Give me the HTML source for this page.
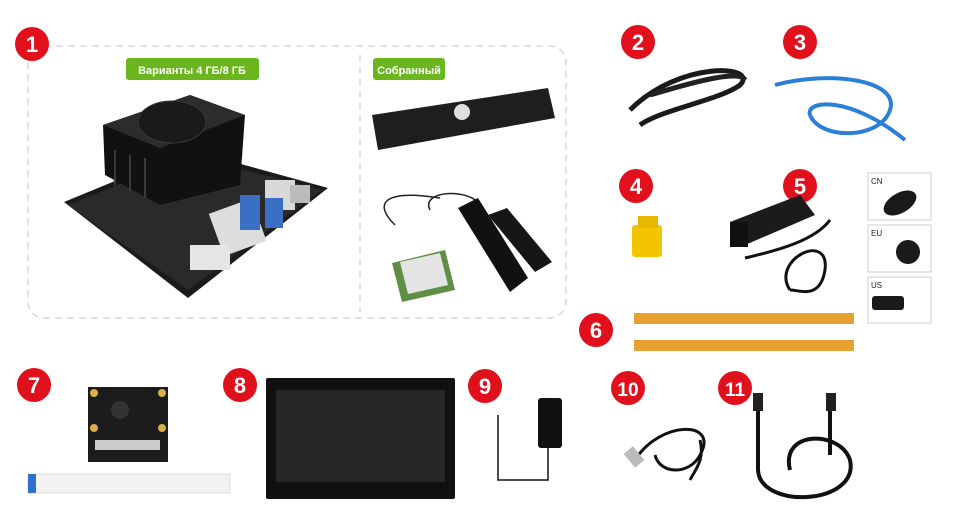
<!DOCTYPE html>
<html><head><meta charset="utf-8"><style>
html,body{margin:0;padding:0;background:#fff;width:960px;height:525px;overflow:hidden}
svg{display:block}
text{font-family:"Liberation Sans",sans-serif}
</style></head><body>
<svg width="960" height="525" viewBox="0 0 960 525" xmlns="http://www.w3.org/2000/svg">
<rect x="28" y="46" width="538" height="272" rx="16" fill="none" stroke="#d8d8d8" stroke-width="1.5" stroke-dasharray="7,5"/>
<line x1="360" y1="55" x2="360" y2="312" stroke="#d8d8d8" stroke-width="1.5" stroke-dasharray="7,5"/>
<rect x="126" y="58" width="133" height="22" rx="3" fill="#6bb51f"/>
<text x="192" y="74" font-size="11" font-weight="bold" fill="#fff" text-anchor="middle">Варианты 4 ГБ/8 ГБ</text>
<rect x="373" y="58" width="72" height="22" rx="3" fill="#6bb51f"/>
<text x="409" y="74" font-size="11" font-weight="bold" fill="#fff" text-anchor="middle">Собранный</text>
<!-- board -->
<polygon points="64,202 190,150 328,188 188,298" fill="#1b1b1b"/>
<polygon points="68,205 190,156 322,190 188,290" fill="#2a2a2a"/>
<polygon points="103,125 190,95 245,115 240,185 160,205 105,175" fill="#111"/>
<polygon points="103,125 190,95 245,115 160,148" fill="#2c2c2c"/>
<ellipse cx="172" cy="122" rx="34" ry="21" fill="#1a1a1a" stroke="#3a3a3a"/>
<g stroke="#3a3a3a" stroke-width="2"><line x1="115" y1="150" x2="115" y2="185"/><line x1="130" y1="155" x2="130" y2="192"/><line x1="145" y1="158" x2="145" y2="198"/></g>
<rect x="215" y="205" width="45" height="45" fill="#ddd" transform="rotate(-20 237 227)"/>
<rect x="265" y="180" width="30" height="30" fill="#d8d8d8"/>
<rect x="240" y="195" width="20" height="35" fill="#3a6fc4"/>
<rect x="265" y="198" width="18" height="30" fill="#3a6fc4"/>
<rect x="190" y="245" width="40" height="25" fill="#e5e5e5"/>
<rect x="290" y="185" width="20" height="18" fill="#bbb"/>
<!-- SSD -->
<polygon points="372,115 548,88 555,118 378,150" fill="#1e1e1e"/>
<circle cx="462" cy="112" r="8" fill="#ddd"/>
<!-- wifi -->
<path d="M395,225 C370,200 390,190 440,198" stroke="#222" fill="none" stroke-width="1.5"/>
<path d="M430,210 C420,190 470,188 480,205" stroke="#222" fill="none" stroke-width="1.5"/>
<polygon points="458,208 478,198 528,278 510,292" fill="#111"/>
<polygon points="488,215 507,208 552,262 535,272" fill="#161616"/>
<polygon points="392,263 445,250 455,290 402,302" fill="#5f8f45"/>
<polygon points="400,262 440,253 448,285 408,294" fill="#e4e4e4"/>
<g fill="#e0101c">
<circle cx="32" cy="44" r="17"/><circle cx="638" cy="42" r="17"/><circle cx="800" cy="42" r="17"/>
<circle cx="636" cy="186" r="17"/><circle cx="800" cy="186" r="17"/><circle cx="596" cy="330" r="17"/>
<circle cx="34" cy="385" r="17"/><circle cx="240" cy="385" r="17"/><circle cx="485" cy="386" r="17"/>
<circle cx="628" cy="388" r="17"/><circle cx="735" cy="388" r="17"/>
</g>
<g fill="#fff" font-size="22" font-weight="bold" text-anchor="middle">
<text x="32" y="52">1</text><text x="638" y="50">2</text><text x="800" y="50">3</text>
<text x="636" y="194">4</text><text x="800" y="194">5</text><text x="596" y="338">6</text>
<text x="34" y="393">7</text><text x="240" y="393">8</text><text x="485" y="394">9</text>
<text x="628" y="396" font-size="19">10</text><text x="735" y="396" font-size="19">11</text>
</g>
<!-- 2 cable -->
<path d="M630,110 C680,60 760,65 740,85 C720,100 660,110 640,125" stroke="#1a1a1a" stroke-width="5" fill="none"/>
<path d="M650,95 C700,80 740,70 745,80" stroke="#222" stroke-width="5" fill="none"/>
<!-- 3 ethernet -->
<path d="M775,85 C830,70 900,80 890,110 C880,140 820,140 810,115 C805,100 850,95 905,140" stroke="#2c7fd6" stroke-width="4" fill="none"/>
<!-- 4 jumper -->
<rect x="632" y="225" width="30" height="32" rx="3" fill="#f2c500"/>
<rect x="638" y="216" width="20" height="12" fill="#e8b800"/>
<!-- 5 PSU -->
<polygon points="730,222 800,195 815,215 745,245" fill="#1b1b1b"/>
<rect x="730" y="222" width="18" height="25" fill="#111"/>
<path d="M745,258 C780,250 815,240 830,220 M790,290 C770,260 830,230 825,270 C820,300 800,290 790,290" stroke="#111" stroke-width="3" fill="none"/>
<g fill="#fff" stroke="#ccc"><rect x="868" y="173" width="63" height="47"/><rect x="868" y="225" width="63" height="47"/><rect x="868" y="277" width="63" height="46"/></g>
<g font-size="8" fill="#222"><text x="871" y="184">CN</text><text x="871" y="236">EU</text><text x="871" y="288">US</text></g>
<g fill="#1a1a1a"><ellipse cx="900" cy="203" rx="18" ry="10" transform="rotate(-30 900 203)"/><circle cx="908" cy="252" r="12"/><rect x="872" y="296" width="32" height="14" rx="3"/></g>
<rect x="634" y="313" width="220" height="11" fill="#e8a030"/>
<rect x="634" y="340" width="220" height="11" fill="#e8a030"/>
<!-- camera -->
<rect x="88" y="387" width="80" height="75" fill="#1c1c1c"/>
<rect x="95" y="440" width="65" height="10" fill="#ccc"/>
<circle cx="120" cy="410" r="9" fill="#333"/>
<g fill="#d9b04a"><circle cx="94" cy="393" r="4"/><circle cx="162" cy="393" r="4"/><circle cx="94" cy="428" r="4"/><circle cx="162" cy="428" r="4"/></g>
<rect x="28" y="474" width="202" height="19" fill="#f2f2f2" stroke="#ddd"/>
<rect x="28" y="474" width="8" height="19" fill="#2f6fd0"/>
<!-- display -->
<rect x="266" y="378" width="189" height="121" rx="2" fill="#111"/>
<rect x="276" y="390" width="169" height="92" fill="#262626"/>
<!-- 9 adapter -->
<rect x="538" y="398" width="24" height="50" rx="3" fill="#111"/>
<path d="M548,448 V480 H498 V415" stroke="#111" stroke-width="1.5" fill="none"/>
<!-- 10 usb -->
<path d="M635,460 C660,420 720,420 700,455 C690,475 660,475 655,455 M700,440 C705,460 695,470 690,480" stroke="#111" stroke-width="3" fill="none"/>
<rect x="628" y="448" width="12" height="18" fill="#bbb" transform="rotate(-40 634 457)"/>
<!-- 11 hdmi -->
<path d="M758,405 V470 C760,510 860,505 850,460 C840,430 780,430 790,470 M830,400 V455" stroke="#111" stroke-width="4" fill="none"/>
<rect x="753" y="393" width="10" height="18" fill="#222"/><rect x="826" y="393" width="10" height="18" fill="#222"/>
</svg>
</body></html>
